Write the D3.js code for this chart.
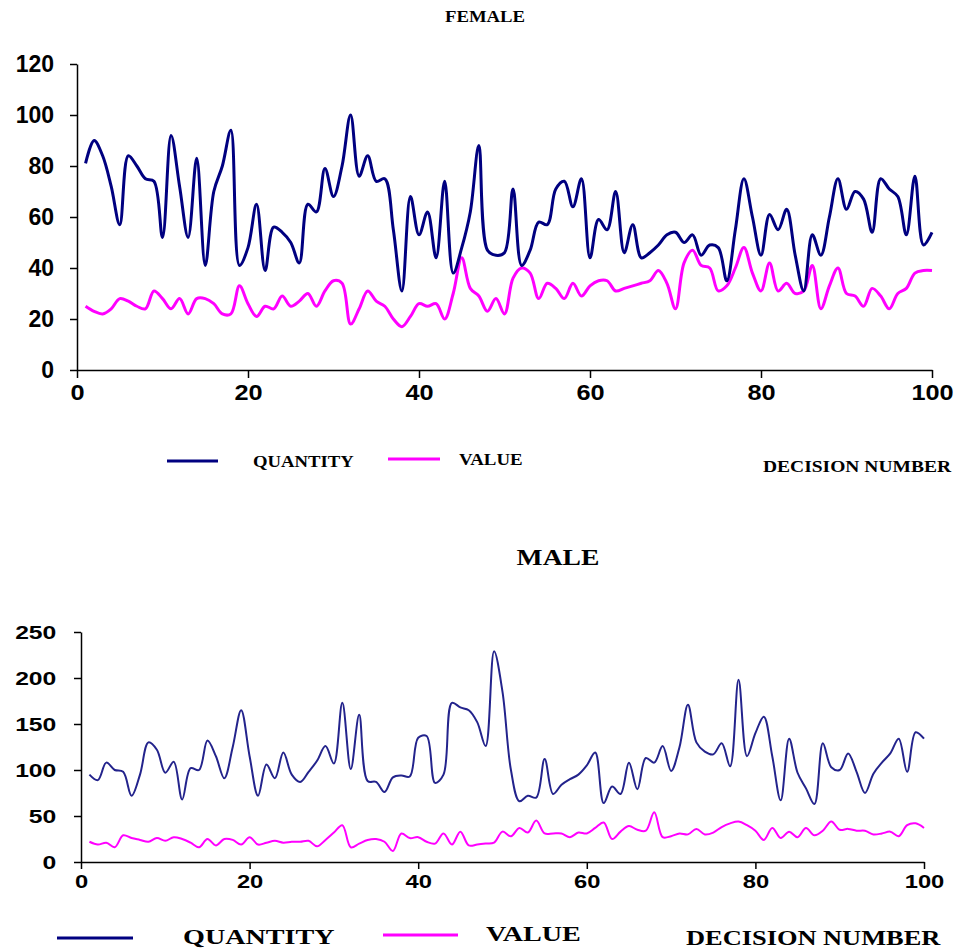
<!DOCTYPE html>
<html>
<head>
<meta charset="utf-8">
<title>Female / Male decisions</title>
<script src="https://cdn.jsdelivr.net/npm/d3@7"></script>
<style>
  body { margin: 0; background: #fff; }
  .axis path, .axis line { stroke: #000; stroke-width: 1.5px; }
  .axis text { font-family: "Liberation Sans", Arial, sans-serif; font-weight: bold; fill: #000; }
  .lbl { font-family: "Liberation Serif", "Times New Roman", serif; font-weight: bold; fill: #000; }
</style>
</head>
<body>
<div id="chart"></div>
<script>
// decision numbers 1..100
var decisions = d3.range(1, 101);

var femaleQuantity = [81,90,84,72,57,84,80,75,74,52, 92,72,52,83,41,70,80,94,41,48,
  65,39,56,54,50,42,65,62,79,68, 80,100,76,84,74,75,55,31,68,53,
  62,44,74,38,48,62,88,47,45,46, 71,41,47,58,57,71,74,64,75,44,
  59,55,70,46,57,44,46,49,53,54, 50,53,45,49,48,35,55,75,60,45,
  61,55,63,45,31,53,45,60,75,63, 70,67,54,75,71,68,53,76,49,54];

var femaleValue = [25,23,22,24,28,27,25,24,31,28, 24,28,22,28,28,26,22,22,33,26,
  21,25,24,29,25,27,30,25,31,35, 34,18,24,31,27,25,20,17,21,26,
  25,26,20,30,44,32,29,23,28,22, 36,40,38,28,34,32,28,34,29,33,
  35,35,31,32,33,34,35,39,34,24, 42,47,41,40,31,33,40,48,38,31,
  42,31,34,30,31,41,24,33,40,30, 29,25,32,29,24,30,32,38,39,39];

var maleQuantity = [95,89,108,100,98,72,95,130,122,97, 109,68,102,100,132,115,91,125,165,115,
  72,106,91,119,95,87,98,110,126,107, 173,101,160,88,87,76,92,94,93,135,
  137,86,95,173,168,165,152,126,229,185, 100,66,72,70,112,74,84,90,95,105,
  119,64,82,74,108,79,113,108,126,99, 125,171,130,120,117,129,104,198,115,140,
  158,115,67,134,97,80,63,129,103,100, 118,98,75,96,108,118,134,98,141,134];

var maleValue = [22,19,21,16,29,26,24,22,26,23, 27,25,21,16,25,18,25,24,19,27,
  19,21,23,21,22,22,23,17,24,32, 40,16,20,24,25,22,12,31,26,27,
  22,20,31,19,33,18,19,20,21,33, 28,37,32,45,31,31,31,27,32,31,
  37,43,25,33,39,35,34,54,27,28, 31,30,36,30,32,38,42,44,40,34,
  24,37,26,33,27,37,29,34,44,35, 36,34,34,30,31,33,28,40,42,37];

var xTicks = [0, 20, 40, 60, 80, 100];
var femaleYTicks = [0, 20, 40, 60, 80, 100, 120];
var maleYTicks = [0, 50, 100, 150, 200, 250];

var navy = "#000080", navy2 = "#23238c", magenta = "#ff00ff";

var svg = d3.select("#chart").append("svg")
  .attr("width", 957).attr("height", 951);

// text stretched sideways like the original picture
function label(x, y, txt, size, sx, anchor) {
  svg.append("text").attr("class", "lbl")
    .attr("transform", "translate(" + x + "," + y + ") scale(" + sx + ",1)")
    .attr("text-anchor", anchor || "start")
    .style("font-size", size + "px")
    .text(txt);
}

function panel(cfg) {
  var x = d3.scaleLinear().domain([0, 100]).range(cfg.xr);
  var y = d3.scaleLinear().domain(cfg.yd).range(cfg.yr);

  var xa = svg.append("g").attr("class", "axis")
    .attr("transform", "translate(0," + cfg.yr[0] + ")")
    .call(d3.axisBottom(x).tickValues(xTicks).tickSize(cfg.tick).tickSizeOuter(0).tickPadding(cfg.xpad));
  xa.selectAll("text").style("font-size", cfg.fs + "px")
    .attr("transform", "scale(" + cfg.sx + ",1)");

  var ya = svg.append("g").attr("class", "axis")
    .attr("transform", "translate(" + cfg.xr[0] + ",0)")
    .call(d3.axisLeft(y).tickValues(cfg.yt).tickSize(7).tickSizeOuter(0).tickPadding(cfg.ypad));
  ya.selectAll("text").style("font-size", cfg.yfs + "px")
    .attr("transform", "scale(" + cfg.sy + ",1)");

  var line = function (vals) {
    return d3.line()
      .x(function (d, i) { return x(decisions[i]); })
      .y(function (d) { return y(d); })
      .curve(d3.curveCatmullRom.alpha(0.5))(vals);
  };

  svg.append("path").attr("d", line(cfg.val))
    .attr("fill", "none").attr("stroke", magenta).attr("stroke-width", cfg.lw);
  svg.append("path").attr("d", line(cfg.qty))
    .attr("fill", "none").attr("stroke", cfg.qcol).attr("stroke-width", cfg.lw);
}

// FEMALE
panel({
  xr: [77, 932], yd: [0, 120], yr: [370, 64], yt: femaleYTicks,
  tick: 8, xpad: 6, ypad: 16, fs: 22, yfs: 23, sx: 1.15, sy: 1.0,
  qty: femaleQuantity, val: femaleValue, qcol: navy, lw: 3
});
label(485, 22, "FEMALE", 17, 1.1, "middle");
svg.append("line").attr("x1", 167).attr("x2", 218).attr("y1", 461).attr("y2", 461)
  .attr("stroke", navy).attr("stroke-width", 3);
label(253, 467, "QUANTITY", 16, 1.17);
svg.append("line").attr("x1", 388).attr("x2", 440).attr("y1", 459).attr("y2", 459)
  .attr("stroke", magenta).attr("stroke-width", 3);
label(459, 465, "VALUE", 16, 1.18);
label(763, 472, "DECISION NUMBER", 16, 1.22);

// MALE
panel({
  xr: [81, 924], yd: [0, 250], yr: [862, 632], yt: maleYTicks,
  tick: 7, xpad: 6, ypad: 12, fs: 19, yfs: 19, sx: 1.25, sy: 1.3,
  qty: maleQuantity, val: maleValue, qcol: navy2, lw: 2
});
label(558, 565, "MALE", 23, 1.2, "middle");
svg.append("line").attr("x1", 57).attr("x2", 133).attr("y1", 938).attr("y2", 938)
  .attr("stroke", navy).attr("stroke-width", 3);
label(183, 944, "QUANTITY", 22, 1.28);
svg.append("line").attr("x1", 383).attr("x2", 458).attr("y1", 935).attr("y2", 935)
  .attr("stroke", magenta).attr("stroke-width", 3);
label(486, 941, "VALUE", 22, 1.28);
label(686, 945, "DECISION NUMBER", 22, 1.2);
</script>
</body>
</html>
